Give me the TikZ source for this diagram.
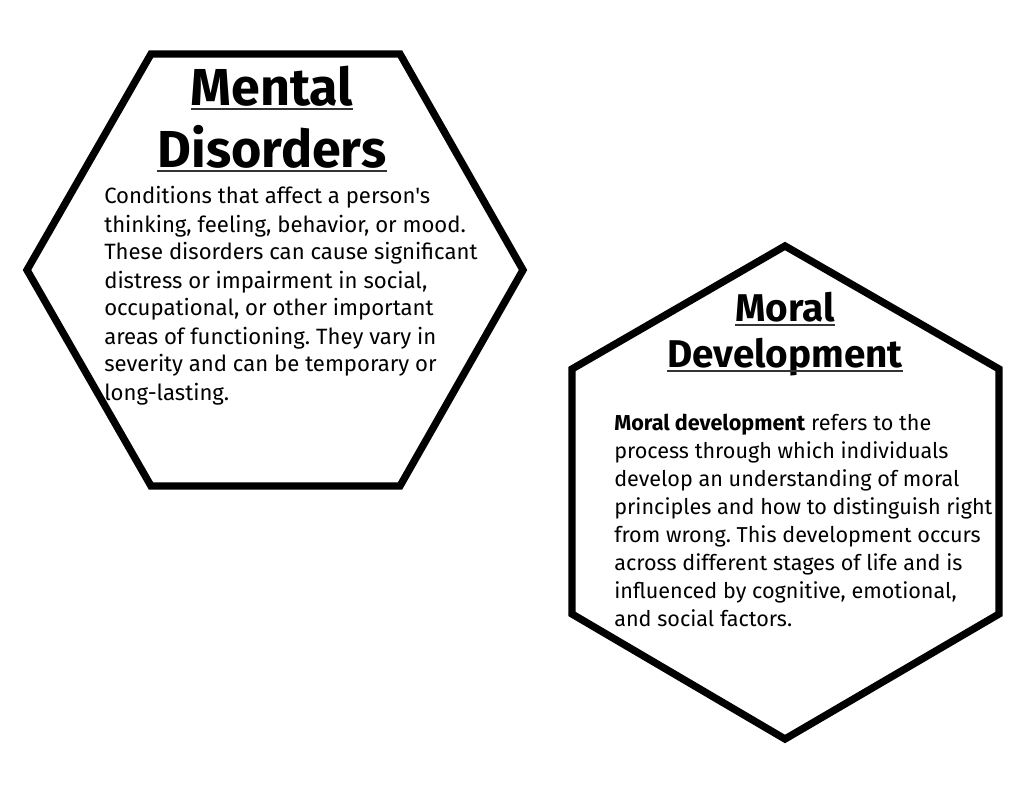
\documentclass[tikz,border=0pt]{standalone}
\usepackage{fontspec}
\setmainfont{Fira Sans}[Ligatures=TeXOff]
\frenchspacing
\begin{document}
\begin{tikzpicture}[x=0.75pt,y=-0.75pt,
  hexline/.style={line width=5.5pt,line join=miter,draw=black},
  bigtitle/.style={font=\fontsize{39}{46}\selectfont\bfseries,inner sep=0pt,anchor=base},
  smalltitle/.style={font=\fontsize{29}{34}\selectfont\bfseries,inner sep=0pt,anchor=base},
  ul/.style={line width=1.6pt,draw=black!80},
  body/.style={inner sep=0pt,align=left,anchor=base west},
  bodyl/.style={body,font=\fontsize{16.6}{21}\selectfont},
  bodyr/.style={body,font=\fontsize{16.2}{21}\selectfont}]
\useasboundingbox (0,0) rectangle (1024,791);
\fill[white] (0,0) rectangle (1024,791);
% left hexagon
\draw[hexline] (151,54) -- (400,54) -- (523,270) -- (400,486) -- (151,486) -- (27,270) -- cycle;
% right hexagon
\draw[hexline] (785,246) -- (999,369) -- (999,614) -- (785,739) -- (572,614) -- (572,369) -- cycle;
% left titles
\node[bigtitle] (t1) at (272,106) {Mental};
\node[bigtitle] (t2) at (272,168) {Disorders};
\draw[ul] ([yshift=-2.25pt]t1.base west) -- ([yshift=-2.25pt]t1.base east);
\draw[ul] ([yshift=-2.25pt]t2.base west) -- ([yshift=-2.25pt]t2.base east);
\node[bodyl] (b1) at (104,400) {Conditions that affect a person's\\
thinking, feeling, behavior, or mood.\\
These disorders can cause significant\\
distress or impairment in social,\\
occupational, or other important\\
areas of functioning. They vary in\\
severity and can be temporary or\\
long-lasting.};
% right titles
\node[smalltitle] (t3) at (785,322) {Moral};
\node[smalltitle] (t4) at (785,368) {Development};
\draw[ul] ([yshift=-2.25pt]t3.base west) -- ([yshift=-2.25pt]t3.base east);
\draw[ul] ([yshift=-2.25pt]t4.base west) -- ([yshift=-2.25pt]t4.base east);
\node[bodyr] (b2) at (614,626) {\textbf{Moral development} refers to the\\
process through which individuals\\
develop an understanding of moral\\
principles and how to distinguish right\\
from wrong. This development occurs\\
across different stages of life and is\\
influenced by cognitive, emotional,\\
and social factors.};
\end{tikzpicture}
\end{document}
